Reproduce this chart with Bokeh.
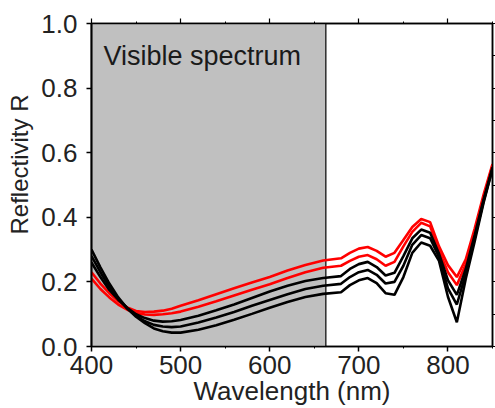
import numpy as np
from bokeh.plotting import figure
from bokeh.models import (BoxAnnotation, Label, LinearAxis, Range1d, Title,
                          FixedTicker, SingleIntervalTicker, PrintfTickFormatter,
                          CustomJSTickFormatter)
from bokeh.embed import file_html
from bokeh.resources import INLINE

# ---- data ----
wavelength = [400, 410, 420, 430, 440, 450, 460, 470, 480, 490, 500,
              520, 540, 560, 580, 600, 620, 640, 660, 680, 690, 700,
              710, 720, 730, 740, 750, 760, 770, 780, 790, 800, 810,
              820, 830, 840, 850]

red_1 = [0.230, 0.195, 0.165, 0.140, 0.121, 0.110, 0.107, 0.108, 0.111, 0.117, 0.126,
         0.143, 0.162, 0.180, 0.198, 0.215, 0.235, 0.252, 0.266, 0.273, 0.290, 0.303,
         0.308, 0.296, 0.278, 0.290, 0.330, 0.370, 0.395, 0.385, 0.310, 0.252, 0.215,
         0.270, 0.365, 0.470, 0.565]
red_2 = [0.210, 0.178, 0.152, 0.130, 0.114, 0.104, 0.099, 0.098, 0.100, 0.103, 0.108,
         0.123, 0.140, 0.158, 0.176, 0.193, 0.212, 0.230, 0.244, 0.250, 0.265, 0.278,
         0.283, 0.270, 0.250, 0.262, 0.310, 0.355, 0.383, 0.372, 0.297, 0.230, 0.190,
         0.255, 0.355, 0.460, 0.560]
black_1 = [0.260, 0.215, 0.175, 0.145, 0.120, 0.100, 0.088, 0.080, 0.077, 0.078, 0.082,
           0.095, 0.112, 0.130, 0.150, 0.170, 0.188, 0.203, 0.212, 0.218, 0.240, 0.255,
           0.262, 0.246, 0.220, 0.228, 0.280, 0.335, 0.362, 0.352, 0.287, 0.205, 0.160,
           0.240, 0.345, 0.455, 0.555]
black_2 = [0.280, 0.230, 0.185, 0.148, 0.118, 0.095, 0.078, 0.067, 0.062, 0.060, 0.062,
           0.074, 0.090, 0.107, 0.126, 0.144, 0.162, 0.178, 0.188, 0.194, 0.215, 0.230,
           0.237, 0.222, 0.195, 0.200, 0.250, 0.315, 0.345, 0.335, 0.277, 0.180, 0.130,
           0.225, 0.335, 0.450, 0.550]
black_3 = [0.300, 0.245, 0.195, 0.152, 0.118, 0.092, 0.072, 0.056, 0.047, 0.043, 0.043,
           0.052, 0.066, 0.083, 0.101, 0.120, 0.138, 0.153, 0.163, 0.168, 0.190, 0.205,
           0.212, 0.196, 0.165, 0.160, 0.215, 0.290, 0.322, 0.312, 0.265, 0.154, 0.075,
           0.210, 0.325, 0.445, 0.550]

visible_range = [400, 663]
x_title = "Wavelength (nm)"
y_title = "Reflectivity R"
region_label = "Visible spectrum"

FONT = "Liberation Sans"
TXT = "#222222"

p = figure(width=495, height=408, output_backend="svg", toolbar_location=None,
           x_range=Range1d(400, 850), y_range=Range1d(0, 1),
           min_border_left=91, min_border_right=2, min_border_top=23,
           min_border_bottom=61)
p.grid.visible = False
p.outline_line_color = "black"
p.outline_line_width = 1.5
p.background_fill_color = "white"
p.border_fill_color = "white"

# visible-spectrum shading
box = BoxAnnotation(left=visible_range[0], right=visible_range[1],
                    fill_color="#c0c0c0", fill_alpha=1.0,
                    line_color="black", line_alpha=1.0, line_width=1.2,
                    level="underlay")
p.add_layout(box)

for ys in (red_1, red_2):
    p.line(wavelength, ys, line_color="#ff0000", line_width=2.6)
for ys in (black_1, black_2, black_3):
    p.line(wavelength, ys, line_color="black", line_width=2.6)

# bottom axis
xa = p.xaxis[0]
xa.ticker = SingleIntervalTicker(interval=100, num_minor_ticks=2)
xa.major_tick_out = 5
xa.major_tick_in = 0
xa.minor_tick_out = 2
xa.minor_tick_in = 0
xa.axis_line_width = 1.5
xa.major_tick_line_width = 1.5
xa.major_label_text_font = FONT
xa.major_label_text_font_size = "26px"
xa.major_label_text_color = TXT
xa.major_label_standoff = 4
xa.axis_label = x_title
xa.axis_label_text_font = FONT
xa.axis_label_text_font_size = "26px"
xa.axis_label_text_font_style = "normal"
xa.axis_label_text_color = TXT
xa.axis_label_standoff = -1

# left axis
ya = p.yaxis[0]
ya.ticker = SingleIntervalTicker(interval=0.2, num_minor_ticks=0)
ya.formatter = PrintfTickFormatter(format="%.1f")
ya.major_tick_out = 5
ya.major_tick_in = 0
ya.minor_tick_out = 0
ya.minor_tick_in = 0
ya.axis_line_width = 2
ya.major_tick_line_width = 1.5
ya.major_label_text_font = FONT
ya.major_label_text_font_size = "26px"
ya.major_label_text_color = TXT
ya.major_label_standoff = 9

# y title as a side title, shifted along the axis like the reference
p.add_layout(Title(text=y_title, text_font=FONT, text_font_size="24px",
                   text_font_style="normal", text_color=TXT,
                   align="left", offset=112, vertical_align="top",
                   standoff=8), "left")

blank = CustomJSTickFormatter(code="return ''")

# top axis (ticks only)
ta = LinearAxis(ticker=SingleIntervalTicker(interval=100, num_minor_ticks=2),
                formatter=blank,
                major_label_text_font_size="1px", major_label_standoff=0,
                major_tick_out=5, major_tick_in=0, minor_tick_out=2, minor_tick_in=0,
                axis_line_width=1.5, major_tick_line_width=1.2)
p.add_layout(ta, "above")

# right axis (ticks only)
ra = LinearAxis(ticker=FixedTicker(ticks=[i / 10 for i in range(11)]),
                formatter=blank,
                major_label_text_font_size="1px", major_label_standoff=0,
                major_tick_out=3, major_tick_in=0, minor_tick_out=0, minor_tick_in=0,
                axis_line_width=1.5, major_tick_line_width=1.2)
p.add_layout(ra, "right")

# region text
p.add_layout(Label(x=413.5, y=0.900, text=region_label, text_font=FONT,
                   text_font_size="27px", text_color="#1a1a1a",
                   text_baseline="alphabetic"))

open("out.html", "w").write(file_html(p, INLINE))
